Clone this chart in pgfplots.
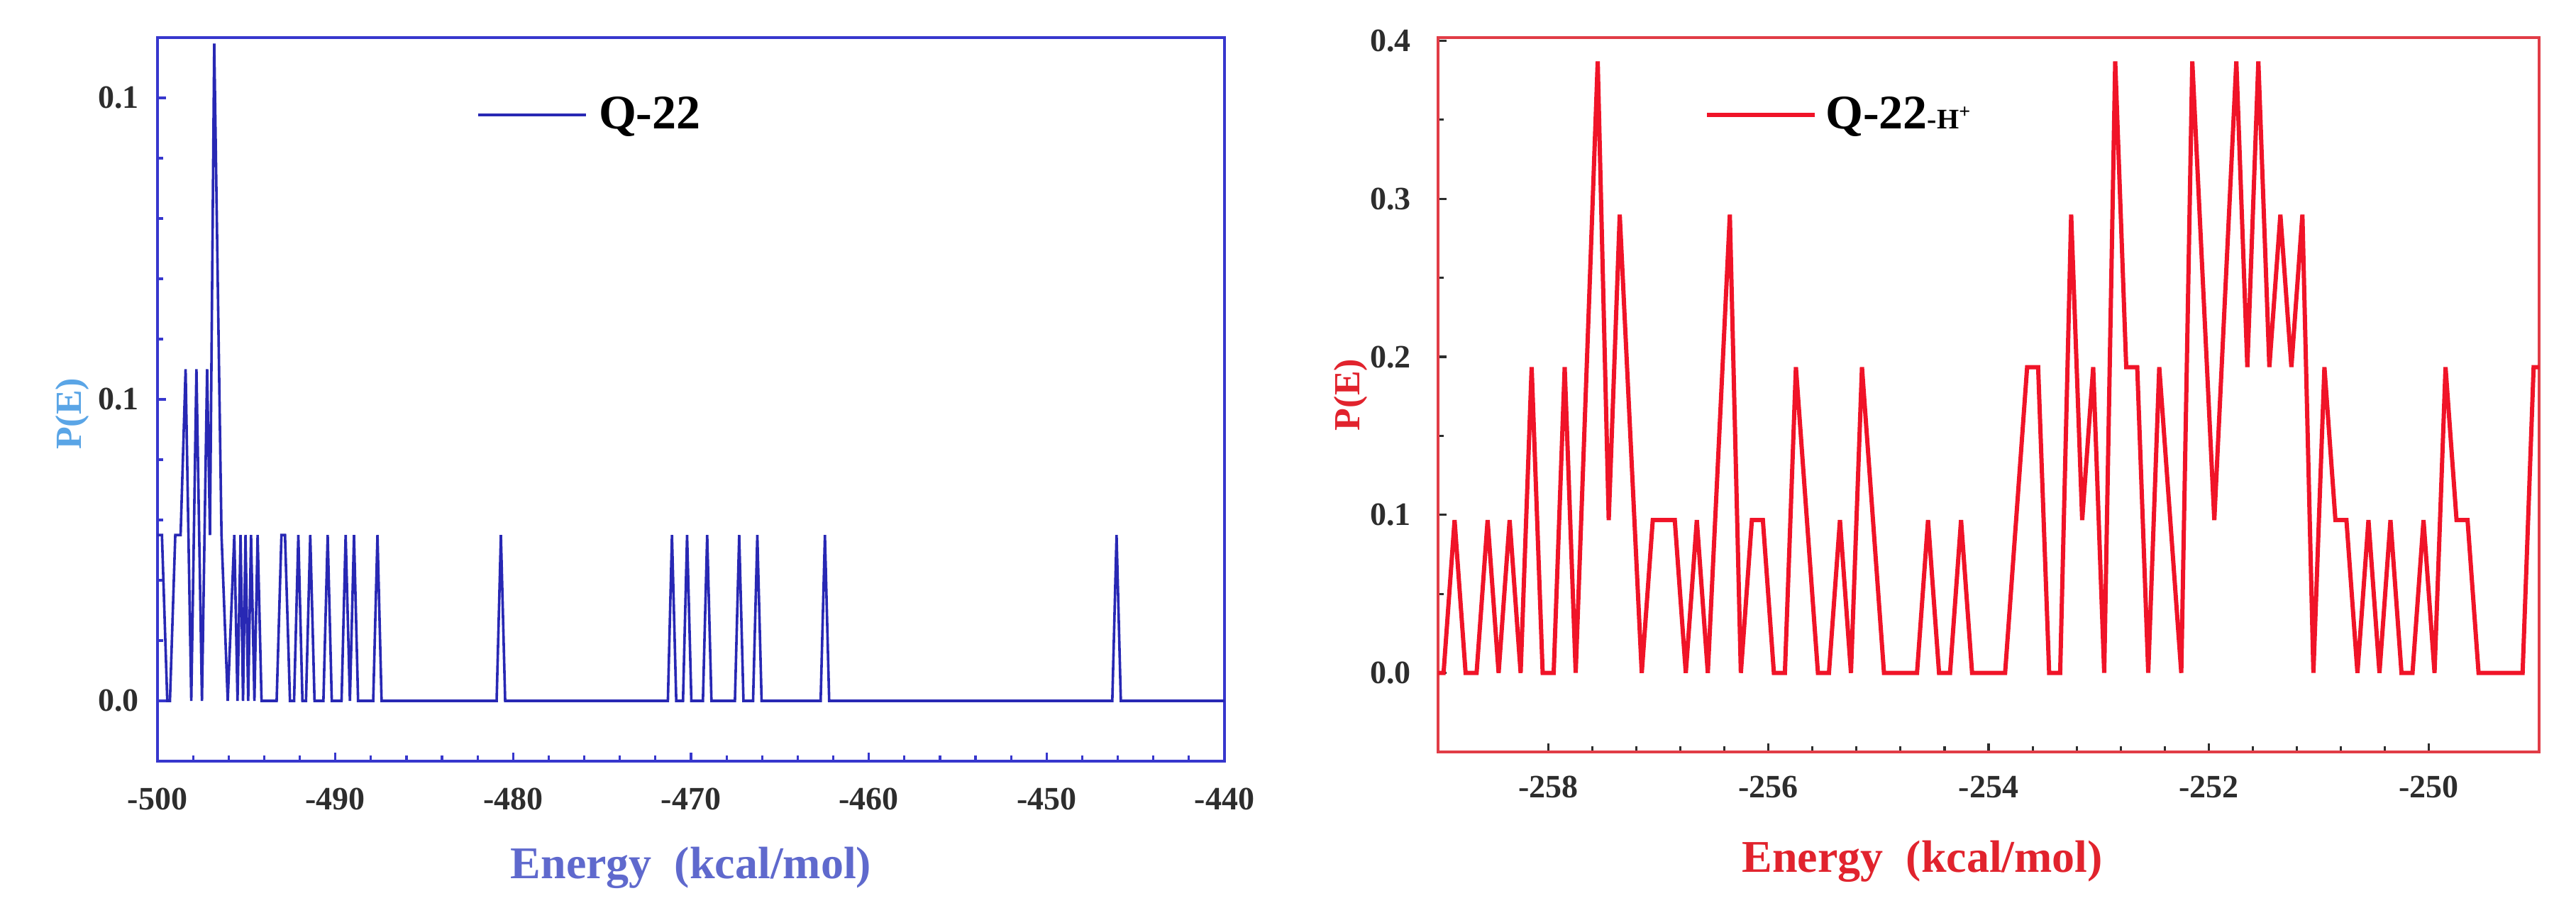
\documentclass[border=0pt]{standalone}
\usepackage{fontspec}
\setmainfont{Liberation Serif}
\usepackage{pgfplots}
\pgfplotsset{compat=1.18}
\definecolor{bframe}{RGB}{55,55,205}
\definecolor{bline}{RGB}{40,40,180}
\definecolor{bylab}{RGB}{90,165,230}
\definecolor{bxlab}{RGB}{95,105,205}
\definecolor{rframe}{RGB}{225,60,70}
\definecolor{rline}{RGB}{240,20,40}
\definecolor{rlab}{RGB}{225,35,45}
\definecolor{ticklab}{RGB}{45,45,45}
\begin{document}
\begin{tikzpicture}
\path[use as bounding box] (0,0) rectangle (907.75pt,319.75pt);
\begin{axis}[
  at={(55.5pt,51.5pt)}, anchor=south west,
  scale only axis, width=376pt, height=255pt,
  xmin=-500, xmax=-440, ymin=-0.01, ymax=0.11,
  axis line style={bframe, line width=1.2pt},
  xtick={-500,-490,-480,-470,-460,-450,-440},
  xticklabels={-500,-490,-480,-470,-460,-450,-440},
  ytick={0,0.05,0.1}, yticklabels={0.0,0.1,0.1},
  minor x tick num=4, minor y tick num=4,
  tick pos=left, tick align=inside,
  major tick length=3pt, minor tick length=2pt,
  tick style={bframe, line width=0.8pt},
  ticklabel style={font=\fontsize{11.5}{13}\selectfont\bfseries, text=ticklab},
  xticklabel style={yshift=-6pt},
  yticklabel style={xshift=-3pt},
  xlabel={Energy\ \ (kcal/mol)},
  xlabel style={at={(axis description cs:0.5,-0.147)}, anchor=center, font=\fontsize{16}{19}\selectfont\bfseries, text=bxlab},
  ylabel={P(E)},
  ylabel style={at={(axis description cs:-0.08,0.48)}, anchor=center, font=\fontsize{13}{15}\selectfont\bfseries, text=bylab},
  legend style={at={(axis description cs:0.299,0.893)}, anchor=west, draw=none, fill=none, inner sep=0pt,
    font=\fontsize{17}{20}\selectfont\bfseries, nodes={inner xsep=4pt, inner ysep=0pt, text=black}},
  legend image code/.code={\draw[#1] (0pt,0pt) -- (38pt,0pt);},
]
\addplot[bline, line width=0.9pt] coordinates {
(-500,0.0275) (-499.75,0.0275) (-499.45,0) (-499.3,0) (-499.0,0.0275) (-498.7,0.0275) (-498.42,0.055) (-498.1,0)
(-497.81,0.055) (-497.5,0) (-497.21,0.055) (-497.05,0.0275) (-496.81,0.109) (-496.4,0.0275) (-496.05,0)
(-495.68,0.0275) (-495.5,0) (-495.33,0.0275) (-495.19,0) (-495.05,0.0275) (-494.9,0) (-494.74,0.0275) (-494.55,0)
(-494.37,0.0275) (-494.15,0) (-493.3,0) (-493.03,0.0275) (-492.83,0.0275) (-492.55,0) (-492.32,0) (-492.08,0.0275)
(-491.85,0) (-491.65,0) (-491.41,0.0275) (-491.17,0) (-490.67,0) (-490.43,0.0275) (-490.2,0) (-489.65,0)
(-489.42,0.0275) (-489.18,0) (-488.95,0.0275) (-488.72,0) (-487.87,0) (-487.63,0.0275) (-487.4,0)
(-480.93,0) (-480.69,0.0275) (-480.45,0) (-471.3,0) (-471.07,0.0275) (-470.83,0) (-470.45,0) (-470.22,0.0275)
(-469.98,0) (-469.33,0) (-469.09,0.0275) (-468.85,0) (-467.53,0) (-467.29,0.0275) (-467.05,0) (-466.51,0)
(-466.27,0.0275) (-466.03,0) (-462.71,0) (-462.47,0.0275) (-462.23,0) (-446.31,0) (-446.07,0.0275) (-445.83,0) (-440,0)
};
\addlegendentry{Q-22}
\end{axis}
\begin{axis}[
  at={(506.75pt,54.75pt)}, anchor=south west,
  scale only axis, width=388pt, height=251.75pt,
  xmin=-259, xmax=-249, ymin=-0.05, ymax=0.402,
  axis line style={rframe, line width=1.2pt},
  xtick={-258,-256,-254,-252,-250},
  xticklabels={-258,-256,-254,-252,-250},
  ytick={0,0.1,0.2,0.3,0.4}, yticklabels={0.0,0.1,0.2,0.3,0.4},
  minor x tick num=4, minor y tick num=1,
  tick pos=left, tick align=inside,
  major tick length=3pt, minor tick length=2pt,
  tick style={ticklab, line width=0.8pt},
  ticklabel style={font=\fontsize{11.5}{13}\selectfont\bfseries, text=ticklab},
  xticklabel style={yshift=-5pt},
  yticklabel style={xshift=-6pt},
  xlabel={Energy\ \ (kcal/mol)},
  xlabel style={at={(axis description cs:0.44,-0.153)}, anchor=center, font=\fontsize{16}{19}\selectfont\bfseries, text=rlab},
  ylabel={P(E)},
  ylabel style={at={(axis description cs:-0.079,0.5)}, anchor=center, font=\fontsize{13}{15}\selectfont\bfseries, text=rlab},
  legend style={at={(axis description cs:0.242,0.892)}, anchor=west, draw=none, fill=none, inner sep=0pt,
    font=\fontsize{17}{20}\selectfont\bfseries, nodes={inner xsep=3pt, inner ysep=0pt, text=black}},
  legend image code/.code={\draw[#1] (0pt,0pt) -- (38pt,0pt);},
]
\addplot[rline, line width=1.5pt] coordinates {
(-259.05,0) (-258.95,0) (-258.85,0.0967) (-258.75,0) (-258.65,0) (-258.55,0.0967) (-258.45,0) (-258.35,0.0967)
(-258.25,0) (-258.15,0.1935) (-258.05,0) (-257.95,0) (-257.85,0.1935) (-257.75,0) (-257.55,0.387) (-257.45,0.0967)
(-257.35,0.290) (-257.15,0) (-257.05,0.0967) (-256.85,0.0967) (-256.75,0) (-256.65,0.0967) (-256.55,0) (-256.35,0.290)
(-256.25,0) (-256.15,0.0967) (-256.05,0.0967) (-255.95,0) (-255.85,0) (-255.75,0.1935) (-255.55,0) (-255.45,0)
(-255.35,0.0967) (-255.25,0) (-255.15,0.1935) (-254.95,0) (-254.65,0) (-254.55,0.0967) (-254.45,0) (-254.35,0)
(-254.25,0.0967) (-254.15,0) (-253.85,0) (-253.65,0.1935) (-253.55,0.1935) (-253.45,0) (-253.35,0) (-253.25,0.290)
(-253.15,0.0967) (-253.05,0.1935) (-252.95,0) (-252.85,0.387) (-252.75,0.1935) (-252.65,0.1935) (-252.55,0)
(-252.45,0.1935) (-252.25,0) (-252.15,0.387) (-251.95,0.0967) (-251.75,0.387) (-251.65,0.1935) (-251.55,0.387)
(-251.45,0.1935) (-251.35,0.290) (-251.25,0.1935) (-251.15,0.290) (-251.05,0) (-250.95,0.1935) (-250.85,0.0967)
(-250.75,0.0967) (-250.65,0) (-250.55,0.0967) (-250.45,0) (-250.35,0.0967) (-250.25,0) (-250.15,0) (-250.05,0.0967)
(-249.95,0) (-249.85,0.1935) (-249.75,0.0967) (-249.65,0.0967) (-249.55,0) (-249.15,0) (-249.05,0.1935) (-248.95,0.1935)
};
\addlegendentry{Q-22{\fontsize{10}{12}\selectfont -H\textsuperscript{+}}}
\end{axis}
\end{tikzpicture}
\end{document}
